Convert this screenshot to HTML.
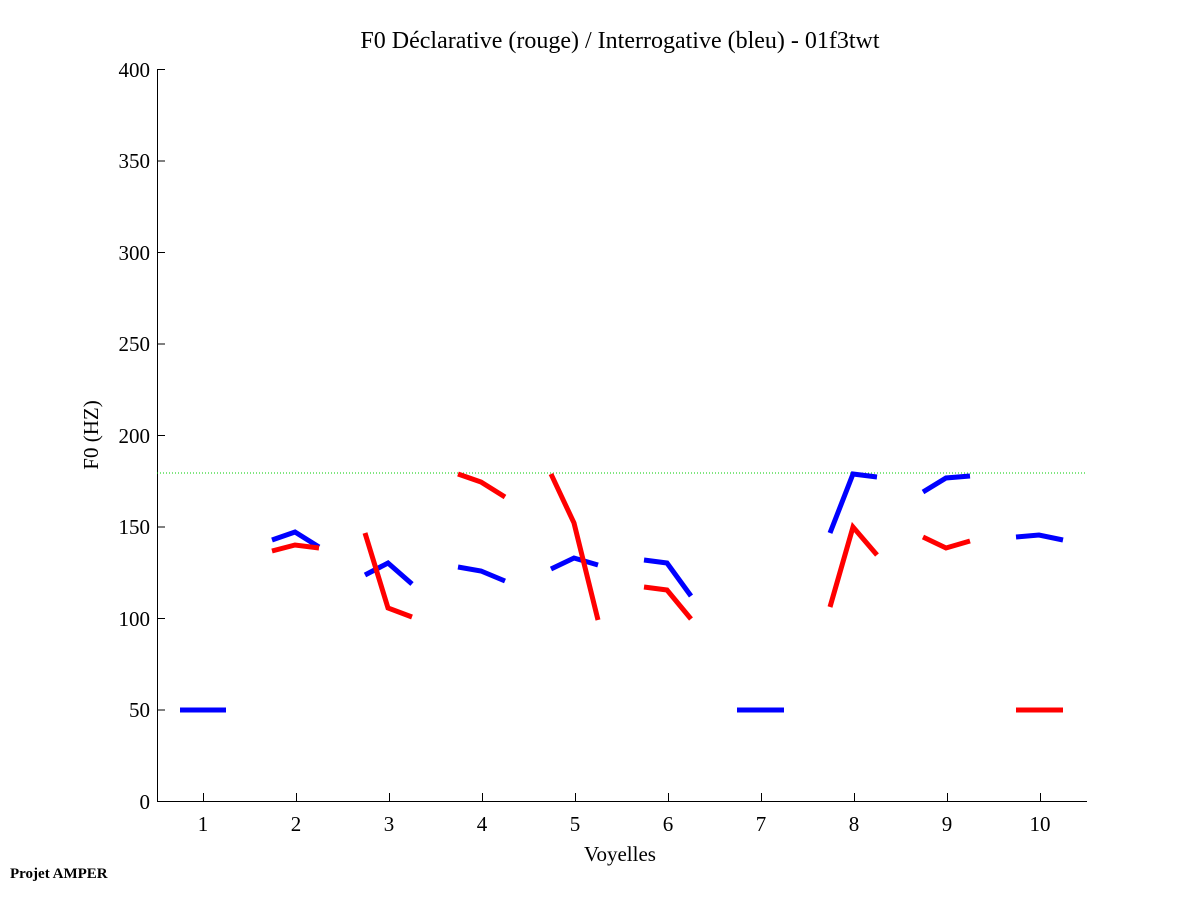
<!DOCTYPE html>
<html><head><meta charset="utf-8"><style>
body{margin:0;background:#fff}
text{font-family:"Liberation Serif",serif;fill:#000}
</style></head><body>
<svg width="1201" height="901" xmlns="http://www.w3.org/2000/svg">
<rect width="1201" height="901" fill="#fff"/>
<text x="620" y="48" font-size="24" text-anchor="middle">F0 Déclarative (rouge) / Interrogative (bleu) - 01f3twt</text>
<g stroke="#000" stroke-width="1" fill="none">
<line x1="157.5" y1="69" x2="157.5" y2="802"/>
<line x1="157" y1="801.5" x2="1087" y2="801.5"/>
<path d="M157 69.5h8M157 161h8M157 252.5h8M157 344h8M157 435.5h8M157 527h8M157 618.5h8M157 710h8
M203.5 801v-8M296.5 801v-8M389.5 801v-8M482.5 801v-8M575.5 801v-8M668.5 801v-8M761.5 801v-8M854.5 801v-8M947.5 801v-8M1040.5 801v-8"/>
</g>
<g font-size="21" text-anchor="end">
<text x="150" y="77">400</text><text x="150" y="168">350</text><text x="150" y="260">300</text><text x="150" y="351">250</text><text x="150" y="443">200</text><text x="150" y="534">150</text><text x="150" y="626">100</text><text x="150" y="717">50</text><text x="150" y="809">0</text>
</g>
<g font-size="21" text-anchor="middle">
<text x="203" y="831">1</text><text x="296" y="831">2</text><text x="389" y="831">3</text><text x="482" y="831">4</text><text x="575" y="831">5</text><text x="668" y="831">6</text><text x="761" y="831">7</text><text x="854" y="831">8</text><text x="947" y="831">9</text><text x="1040" y="831">10</text>
<text x="620" y="861">Voyelles</text>
<text transform="translate(98,435) rotate(-90)">F0 (HZ)</text>
</g>
<text x="10" y="878" font-size="15" font-weight="bold">Projet AMPER</text>
<line x1="157" y1="473" x2="1087" y2="473" stroke="#00cc00" stroke-width="1" stroke-dasharray="1,2"/>
<g fill="none" stroke="#0000ff" stroke-width="5">
<path d="M180 710H226"/>
<path d="M272 540L295 532L319 547"/>
<path d="M365 575L388 563L412 584"/>
<path d="M458 567L481 571L505 581"/>
<path d="M551 569L574 558L598 565"/>
<path d="M644 560L667 563L691 596"/>
<path d="M737 710H784"/>
<path d="M830 533L853 474L877 477"/>
<path d="M923 492L946 478L970 476"/>
<path d="M1016 537L1039 535L1063 540"/>
</g>
<g fill="none" stroke="#ff0000" stroke-width="5">
<path d="M272 551L295 545L319 548"/>
<path d="M365 533L388 608L412 617"/>
<path d="M458 474L481 482L505 497"/>
<path d="M551 474L574 523L598 620"/>
<path d="M644 587L667 590L691 619"/>
<path d="M830 607L853 527L877 555"/>
<path d="M923 537L946 548L970 541"/>
<path d="M1016 710H1063"/>
</g>
</svg>
</body></html>
